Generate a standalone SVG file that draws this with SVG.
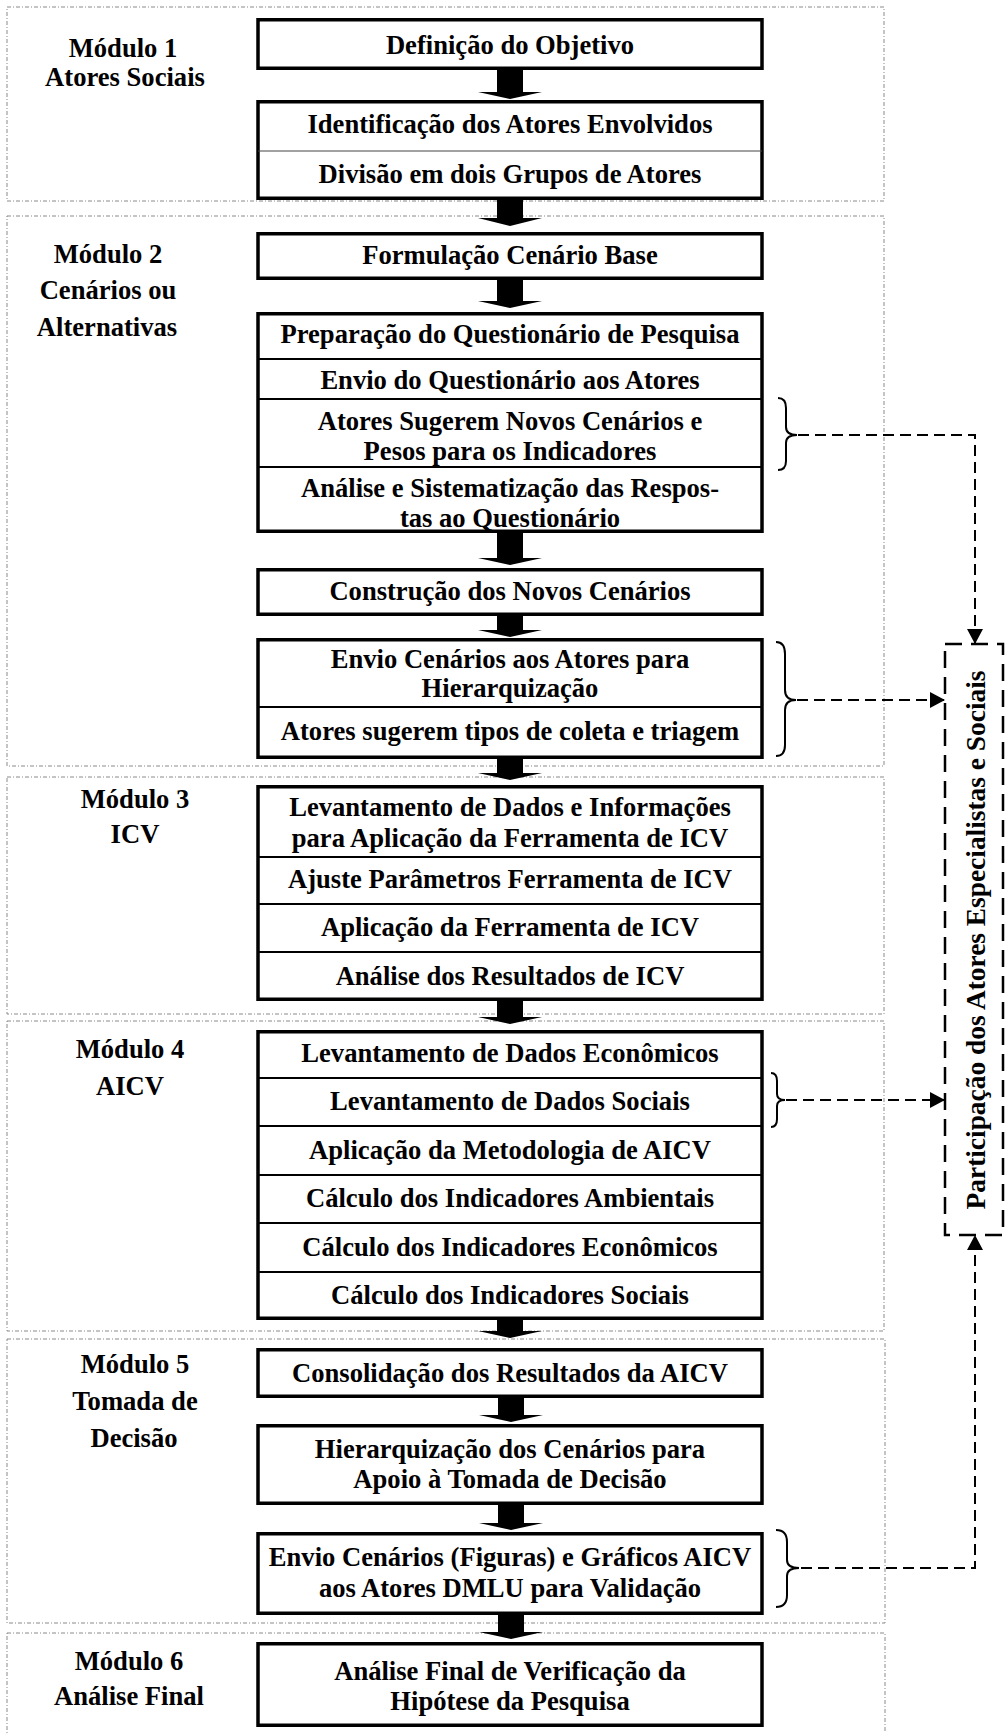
<svg xmlns="http://www.w3.org/2000/svg" width="1006" height="1733" viewBox="0 0 1006 1733">
  <style>
    .mod { fill: none; stroke: #8a8a8a; stroke-width: 1; stroke-dasharray: 4 2 1 2; }
    .box { fill: #fff; stroke: #000; stroke-width: 3.5; }
    .div { stroke: #000; stroke-width: 2; }
    .div1 { stroke: #444; stroke-width: 1; }
    .t { font-family: "Liberation Serif", "Times New Roman", serif; font-weight: bold; font-size: 26.6px; text-anchor: middle; fill: #000; }
    .vt { font-size: 27.4px; }
    .blk { fill: #000; }
    .dash { fill: none; stroke: #000; stroke-width: 2; stroke-dasharray: 11 6; }
    .brace { fill: none; stroke: #000; stroke-width: 2; }
    .part { fill: none; stroke: #000; stroke-width: 2.5; stroke-dasharray: 17 9; }
  </style>
  <defs>
    <marker id="tri" markerUnits="userSpaceOnUse" markerWidth="16" markerHeight="16" refX="15" refY="8" orient="auto">
      <path d="M0,0 L15,8 L0,16 Z" fill="#000"/>
    </marker>
  </defs>

  <!-- module frames -->
  <g id="modules">
    <rect class="mod" x="7" y="7" width="877" height="194"/>
    <rect class="mod" x="7" y="216" width="877" height="550"/>
    <rect class="mod" x="7" y="777" width="877" height="237"/>
    <rect class="mod" x="7" y="1021" width="877" height="310"/>
    <rect class="mod" x="7" y="1339" width="878" height="284"/>
    <rect class="mod" x="7" y="1633" width="878" height="120"/>
  </g>

  <!-- module titles -->
  <g id="labels">
    <text class="t" x="123" y="57">Módulo 1</text>
    <text class="t" x="125" y="86">Atores Sociais</text>
    <text class="t" x="108" y="263">Módulo 2</text>
    <text class="t" x="108" y="299">Cenários ou</text>
    <text class="t" x="107" y="336">Alternativas</text>
    <text class="t" x="135" y="808">Módulo 3</text>
    <text class="t" x="135" y="843">ICV</text>
    <text class="t" x="130" y="1058">Módulo 4</text>
    <text class="t" x="130" y="1095">AICV</text>
    <text class="t" x="135" y="1373">Módulo 5</text>
    <text class="t" x="135" y="1410">Tomada de</text>
    <text class="t" x="134" y="1447">Decisão</text>
    <text class="t" x="129" y="1670">Módulo 6</text>
    <text class="t" x="129" y="1705">Análise Final</text>
  </g>

  <!-- block arrows between steps -->
  <g id="flow">
    <polygon class="blk" points="497,70 523,70 523,92 542,92 510,99 478,92 497,92"/>
    <polygon class="blk" points="497,200 523,200 523,218 542,218 510,226 478,218 497,218"/>
    <polygon class="blk" points="497,280 523,280 523,301 542,301 510,308 478,301 497,301"/>
    <polygon class="blk" points="497,533 523,533 523,558 542,558 510,565 478,558 497,558"/>
    <polygon class="blk" points="497,616 523,616 523,630 542,630 510,637 478,630 497,630"/>
    <polygon class="blk" points="497,759 523,759 523,773 542,773 510,780 478,773 497,773"/>
    <polygon class="blk" points="497,1001 523,1001 523,1017 542,1017 510,1024 478,1017 497,1017"/>
    <polygon class="blk" points="497,1320 523,1320 523,1331 542,1331 510,1338 478,1331 497,1331"/>
    <polygon class="blk" points="498,1398 524,1398 524,1415 543,1415 511,1422 479,1415 498,1415"/>
    <polygon class="blk" points="498,1505 524,1505 524,1523 543,1523 511,1530 479,1523 498,1523"/>
    <polygon class="blk" points="498,1615 524,1615 524,1632 543,1632 511,1639 479,1632 498,1632"/>
  </g>

  <!-- Módulo 1 -->
  <g id="n-objetivo">
    <rect class="box" x="258" y="19.75" width="504" height="48.5"/>
    <text class="t" x="510" y="54">Definição do Objetivo</text>
  </g>
  <g id="n-atores">
    <rect class="box" x="258" y="101.75" width="504" height="96.5"/>
    <line class="div1" x1="258" y1="151" x2="762" y2="151"/>
    <text class="t" x="510" y="133">Identificação dos Atores Envolvidos</text>
    <text class="t" x="510" y="183">Divisão em dois Grupos de Atores</text>
  </g>

  <!-- Módulo 2 -->
  <g id="n-base">
    <rect class="box" x="258" y="233.75" width="504" height="44.5"/>
    <text class="t" x="510" y="264">Formulação Cenário Base</text>
  </g>
  <g id="n-questionario">
    <rect class="box" x="258" y="313.75" width="504" height="217.5"/>
    <line class="div" x1="258" y1="359" x2="762" y2="359"/>
    <line class="div" x1="258" y1="399" x2="762" y2="399"/>
    <line class="div" x1="258" y1="467" x2="762" y2="467"/>
    <text class="t" x="510" y="343">Preparação do Questionário de Pesquisa</text>
    <text class="t" x="510" y="389">Envio do Questionário aos Atores</text>
    <text class="t" x="510" y="430">Atores Sugerem Novos Cenários e</text>
    <text class="t" x="510" y="460">Pesos para os Indicadores</text>
    <text class="t" x="510" y="497">Análise e Sistematização das Respos-</text>
    <text class="t" x="510" y="527">tas ao Questionário</text>
  </g>
  <g id="n-novos">
    <rect class="box" x="258" y="569.75" width="504" height="44.5"/>
    <text class="t" x="510" y="600">Construção dos Novos Cenários</text>
  </g>
  <g id="n-hierarquizacao">
    <rect class="box" x="258" y="639.75" width="504" height="117.5"/>
    <line class="div" x1="258" y1="707" x2="762" y2="707"/>
    <text class="t" x="510" y="668">Envio Cenários aos Atores para</text>
    <text class="t" x="510" y="697">Hierarquização</text>
    <text class="t" x="510" y="740">Atores sugerem tipos de coleta e triagem</text>
  </g>

  <!-- Módulo 3 -->
  <g id="n-icv">
    <rect class="box" x="258" y="786.75" width="504" height="212.5"/>
    <line class="div" x1="258" y1="857" x2="762" y2="857"/>
    <line class="div" x1="258" y1="904" x2="762" y2="904"/>
    <line class="div" x1="258" y1="952" x2="762" y2="952"/>
    <text class="t" x="510" y="816">Levantamento de Dados e Informações</text>
    <text class="t" x="510" y="847">para Aplicação da Ferramenta de ICV</text>
    <text class="t" x="510" y="888">Ajuste Parâmetros Ferramenta de ICV</text>
    <text class="t" x="510" y="936">Aplicação da Ferramenta de ICV</text>
    <text class="t" x="510" y="985">Análise dos Resultados de ICV</text>
  </g>

  <!-- Módulo 4 -->
  <g id="n-aicv">
    <rect class="box" x="258" y="1031.75" width="504" height="286.5"/>
    <line class="div" x1="258" y1="1078" x2="762" y2="1078"/>
    <line class="div" x1="258" y1="1126" x2="762" y2="1126"/>
    <line class="div" x1="258" y1="1175" x2="762" y2="1175"/>
    <line class="div" x1="258" y1="1223" x2="762" y2="1223"/>
    <line class="div" x1="258" y1="1272" x2="762" y2="1272"/>
    <text class="t" x="510" y="1062">Levantamento de Dados Econômicos</text>
    <text class="t" x="510" y="1110">Levantamento de Dados Sociais</text>
    <text class="t" x="510" y="1159">Aplicação da Metodologia de AICV</text>
    <text class="t" x="510" y="1207">Cálculo dos Indicadores Ambientais</text>
    <text class="t" x="510" y="1256">Cálculo dos Indicadores Econômicos</text>
    <text class="t" x="510" y="1304">Cálculo dos Indicadores Sociais</text>
  </g>

  <!-- Módulo 5 -->
  <g id="n-consolidacao">
    <rect class="box" x="258" y="1349.75" width="504" height="46.5"/>
    <text class="t" x="510" y="1382">Consolidação dos Resultados da AICV</text>
  </g>
  <g id="n-decisao">
    <rect class="box" x="258" y="1425.75" width="504" height="77.5"/>
    <text class="t" x="510" y="1458">Hierarquização dos Cenários para</text>
    <text class="t" x="510" y="1488">Apoio à Tomada de Decisão</text>
  </g>
  <g id="n-validacao">
    <rect class="box" x="258" y="1533.75" width="504" height="79.5"/>
    <text class="t" x="510" y="1566">Envio Cenários (Figuras) e Gráficos AICV</text>
    <text class="t" x="510" y="1597">aos Atores DMLU para Validação</text>
  </g>

  <!-- Módulo 6 -->
  <g id="n-final">
    <rect class="box" x="258" y="1643.75" width="504" height="81.5"/>
    <text class="t" x="510" y="1680">Análise Final de Verificação da</text>
    <text class="t" x="510" y="1710">Hipótese da Pesquisa</text>
  </g>

  <!-- stakeholder participation panel -->
  <g id="n-participacao">
    <rect class="part" x="945" y="644" width="58" height="591"/>
    <text class="t vt" transform="translate(985,940) rotate(-90)" x="0" y="0">Participação dos Atores Especialistas e Sociais</text>
  </g>

  <!-- braces and dashed links to the participation panel -->
  <g id="links">
    <path class="brace" d="M778,398 Q786,398 786,408 L786,427 Q786,435 797,435 Q786,435 786,443 L786,461 Q786,470 778,470"/>
    <path class="brace" d="M776,642 Q785,642 785,654 L785,690 Q785,700 796,700 Q785,700 785,710 L785,745 Q785,756 776,756"/>
    <path class="brace" d="M771,1073 Q777,1073 777,1081 L777,1094 Q777,1100 785,1100 Q777,1100 777,1106 L777,1119 Q777,1127 771,1127"/>
    <path class="brace" d="M776,1530 Q787,1530 787,1542 L787,1560 Q787,1568 799,1568 Q787,1568 787,1576 L787,1595 Q787,1607 776,1607"/>

    <path class="dash" d="M798,435 H975 V644" marker-end="url(#tri)"/>
    <path class="dash" d="M797,700 H945" marker-end="url(#tri)"/>
    <path class="dash" d="M786,1100 H945" marker-end="url(#tri)"/>
    <path class="dash" d="M801,1568 H975 V1235" marker-end="url(#tri)"/>
  </g>
</svg>
